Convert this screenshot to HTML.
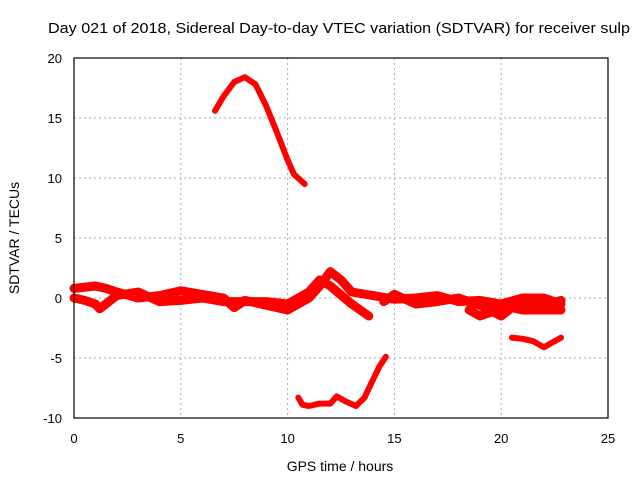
<!DOCTYPE html>
<html><head><meta charset="utf-8"><style>
body{margin:0;background:#fff}
svg{display:block;font-family:"Liberation Sans",sans-serif}
</style></head><body>
<svg id="c" width="640" height="480">
<text x="48" y="33" font-size="15" textLength="582" lengthAdjust="spacingAndGlyphs">Day 021 of 2018, Sidereal Day-to-day VTEC variation (SDTVAR) for receiver sulp</text>
<text x="340" y="471" font-size="14" text-anchor="middle">GPS time / hours</text>
<text x="19" y="238" font-size="14" text-anchor="middle" transform="rotate(-90 19 238)">SDTVAR / TECUs</text>
<g id="grid"></g><g id="data"></g>
<rect x="74" y="58" width="534" height="360" fill="none" stroke="#000" stroke-width="1.2"/>
</svg>
<script>
const xTicks=[0,5,10,15,20,25];
const yTicks=[-10,-5,0,5,10,15,20];
const seriesArc=[[6.6,15.6],[7,16.8],[7.5,18],[8,18.4],[8.5,17.8],[9,16],[9.5,13.8],[10,11.5],[10.3,10.3],[10.8,9.5]];
const seriesLow=[[10.5,-8.3],[10.7,-8.9],[11,-9],[11.5,-8.8],[12,-8.8],[12.3,-8.2],[12.7,-8.6],[13.2,-9],[13.6,-8.3],[14,-6.8],[14.3,-5.7],[14.6,-4.9]];
const seriesRight=[[20.5,-3.3],[21,-3.4],[21.5,-3.6],[22,-4.1],[22.3,-3.8],[22.8,-3.3]];
const seriesBand1=[[0,0.8],[1,1],[1.5,0.8],[2,0.5],[3,0],[4,0.2],[5,0.6],[6,0.3],[7,0],[7.5,-0.8],[8,-0.2],[9,-0.6],[10,-1],[11,0],[11.5,1],[12,2.2],[12.5,1.5],[13,0.5],[14,0.2],[15,-0.1],[16,0],[17,0.2],[18,-0.3],[19,-0.2],[20,-0.5],[21,0],[22,0],[22.8,-0.5]];
const seriesBand2=[[0,0],[0.5,-0.2],[1,-0.5],[1.2,-0.9],[2,0.2],[3,0.5],[4,-0.3],[5,-0.2],[6,0],[7,-0.3],[8,-0.3],[9,-0.3],[10,-0.5],[11,0.5],[11.5,1.5],[12,1],[13,-0.5],[13.8,-1.5]];
const seriesBand3=[[14.5,-0.3],[15,0.3],[16,-0.5],[17,-0.3],[18,0],[19,-0.6],[20,-1.5],[20.5,-0.8],[21,-1],[22,-1],[22.8,-1]];
const seriesBand4=[[18.5,-1],[19,-1.5],[19.5,-1.2],[20,-0.8],[20.5,-0.3],[21,-0.3],[22,-0.6],[22.8,-0.2]];
const NS="http://www.w3.org/2000/svg";
const X=v=>74+v*534/25, Y=v=>418-(v+10)*12;
const g=document.getElementById('grid'), d=document.getElementById('data');
function mk(t,a,p){const e=document.createElementNS(NS,t);for(const k in a)e.setAttribute(k,a[k]);p.appendChild(e);return e;}
xTicks.forEach(t=>{
 if(t>0&&t<25){const l=mk('line',{x1:X(t),x2:X(t),y1:58,y2:418,stroke:'#aaa','stroke-dasharray':'2,3'},g);
 
 }
 const tx=mk('text',{x:X(t),y:443,'font-size':13,'text-anchor':'middle'},g);tx.textContent=t;
 
 
});
yTicks.forEach(t=>{
 if(t>-10&&t<20){const l=mk('line',{x1:74,x2:608,y1:Y(t),y2:Y(t),stroke:'#aaa','stroke-dasharray':'2,3'},g);
 
 }
 const tx=mk('text',{x:62,y:Y(t)+5,'font-size':13,'text-anchor':'end'},g);tx.textContent=t;
 
 
});
[seriesArc,seriesLow,seriesRight,seriesBand1,seriesBand2,seriesBand3,seriesBand4].forEach((s,i)=>{
 const p=mk('polyline',{points:s.map(q=>X(q[0])+','+Y(q[1])).join(' '),fill:'none',stroke:'#f00','stroke-width':i>2?9:6,'stroke-linejoin':'round','stroke-linecap':'round'},d);
 
 
});
</script>
</body></html>
